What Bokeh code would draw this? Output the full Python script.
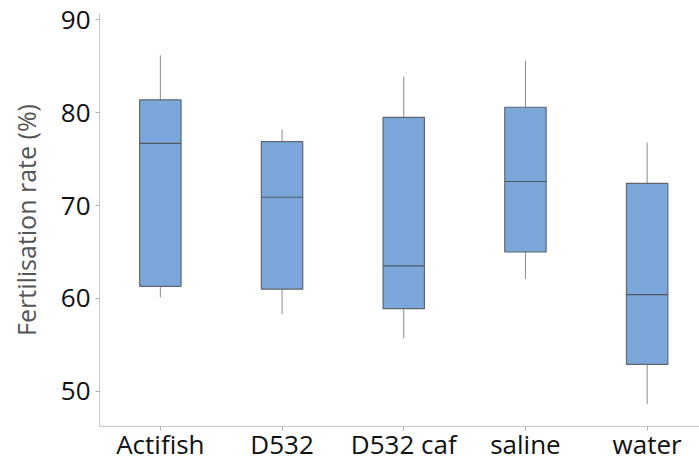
from bokeh.plotting import figure
from bokeh.models import ColumnDataSource, FixedTicker, Range1d
from bokeh.embed import file_html
from bokeh.resources import INLINE

categories = ["Actifish", "D532", "D532 caf", "saline", "water"]
whisker_low = [60.1, 58.3, 55.7, 62.1, 48.6]
q1 = [61.3, 61.0, 58.9, 65.0, 52.9]
median = [76.7, 70.9, 63.5, 72.6, 60.4]
q3 = [81.4, 76.9, 79.5, 80.6, 72.4]
whisker_high = [86.2, 78.2, 83.9, 85.6, 76.8]
y_ticks = [50, 60, 70, 80, 90]

xs = list(range(len(categories)))
w = 0.34
src = ColumnDataSource(dict(
    x=xs, lo=whisker_low, q1=q1, med=median, q3=q3, hi=whisker_high,
    left=[x - w / 2 for x in xs], right=[x + w / 2 for x in xs],
))

p = figure(width=699, height=464, output_backend="svg", toolbar_location=None,
           x_range=Range1d(-0.5, 4.43), y_range=Range1d(46.2, 90.7),
           min_border_left=99, min_border_right=0, min_border_top=13, min_border_bottom=34)

p.segment(x0="x", y0="q3", x1="x", y1="hi", source=src, line_color="#8a8a8a", line_width=1)
p.segment(x0="x", y0="lo", x1="x", y1="q1", source=src, line_color="#8a8a8a", line_width=1)
p.vbar(x="x", width=w, bottom="q1", top="q3", source=src,
       fill_color="#7ba7da", line_color="#5f6670", line_width=1.2)
p.segment(x0="left", y0="med", x1="right", y1="med", source=src, line_color="#4f5660", line_width=1.2)

p.xgrid.visible = False
p.ygrid.visible = False
p.outline_line_color = None

p.xaxis.ticker = FixedTicker(ticks=xs)
p.xaxis.major_label_overrides = {i: c for i, c in enumerate(categories)}
p.yaxis.ticker = FixedTicker(ticks=y_ticks)

for ax in (p.xaxis, p.yaxis):
    ax.axis_line_color = "#c8c8c8"
    ax.major_tick_line_color = "#b0b0b0"
    ax.major_tick_out = 4
    ax.major_tick_in = 0
    ax.minor_tick_line_color = None
    ax.major_label_text_font = "Open Sans"
    ax.major_label_text_font_size = "26px"
    ax.major_label_text_color = "#111111"

p.xaxis.major_label_standoff = -5
p.yaxis.major_label_standoff = 5

p.yaxis.axis_label = "Fertilisation rate (%)"
p.yaxis.axis_label_text_font = "Open Sans"
p.yaxis.axis_label_text_font_style = "normal"
p.yaxis.axis_label_text_font_size = "25px"
p.yaxis.axis_label_text_color = "#555555"
p.yaxis.axis_label_standoff = 15

open("out.html", "w").write(file_html(p, INLINE))
